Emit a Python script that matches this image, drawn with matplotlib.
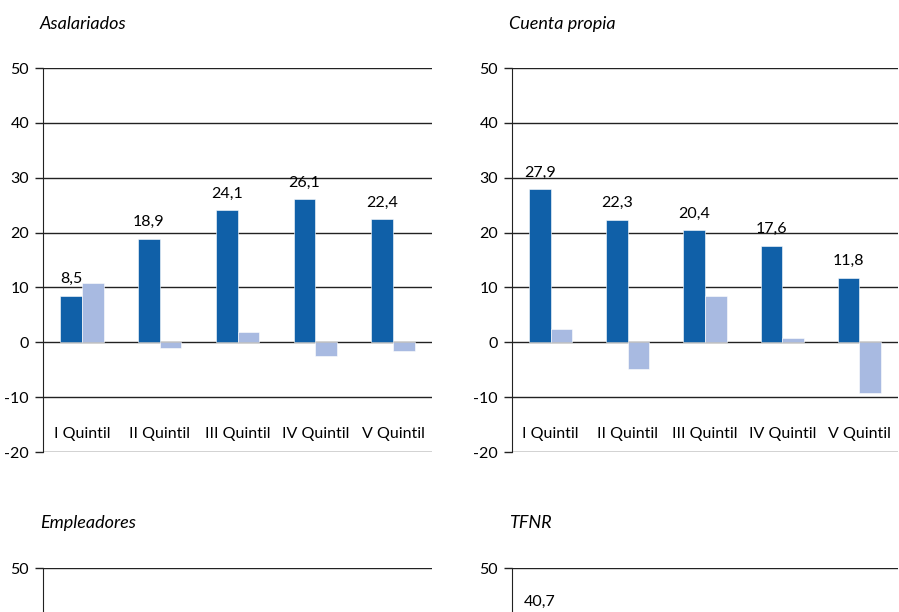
import matplotlib.pyplot as plt
import numpy as np

plt.rcParams['font.family'] = ['Lato', 'DejaVu Sans']
plt.rcParams['axes.unicode_minus'] = False

quintiles = ["I Quintil", "II Quintil", "III Quintil", "IV Quintil", "V Quintil"]

asal_nivel = [8.5, 18.9, 24.1, 26.1, 22.4]
asal_var = [10.8, -1.0, 1.8, -2.5, -1.6]

cprop_nivel = [27.9, 22.3, 20.4, 17.6, 11.8]
cprop_var = [2.4, -4.8, 8.5, 0.7, -9.3]

empl_nivel = [3.2, 4.1, 5.0, 6.8, 12.5]
empl_var = [0.4, -0.6, 0.9, -1.2, 1.5]

tfnr_nivel = [40.7, 26.5, 18.3, 12.2, 6.4]
tfnr_var = [3.1, -2.2, 1.4, -1.8, -0.9]

DARK = "#1060A8"
LIGHT = "#A8BAE1"
W, H = 899, 612


def panel(rect, title, nivel, var, title_xy):
    ax = fig.add_axes(rect)
    x = np.arange(len(quintiles))
    bw = 0.28
    ax.bar(x - bw / 2, nivel, bw, color=DARK, edgecolor="white", linewidth=0.4, zorder=3)
    ax.bar(x + bw / 2, var, bw, color=LIGHT, edgecolor="white", linewidth=0.4, zorder=3)
    for xi, v in zip(x, nivel):
        ax.annotate(f"{v:.1f}".replace(".", ","), (xi - bw / 2, v), xytext=(0, 12),
                    textcoords="offset points", ha="center", va="center", fontsize=11.5)
    for xi, q in zip(x, quintiles):
        ax.text(xi, -16.8, q, ha="center", va="center", fontsize=11.5)
    ax.set_xlim(-0.5, len(quintiles) - 0.5)
    ax.set_ylim(-20, 50)
    ax.set_yticks(range(-20, 51, 10))
    ax.yaxis.grid(True, color="#222222", linewidth=1.0, zorder=0)
    ax.set_axisbelow(True)
    ax.set_xticks([])
    for s in ["top", "right", "bottom"]:
        ax.spines[s].set_visible(False)
    ax.spines["left"].set_color("#222222")
    ax.tick_params(axis="y", length=6, width=1, color="#222222", labelsize=11.5, pad=4)
    fig.text(title_xy[0] / W, 1 - title_xy[1] / H, title, style="italic",
             fontsize=13, ha="left", va="center")
    return ax


fig = plt.figure(figsize=(W / 100, H / 100), dpi=100)

hgt = 384 / H
panel([43 / W, 1 - 452 / H, 389 / W, hgt], "Asalariados", asal_nivel, asal_var, (40, 24))
panel([512 / W, 1 - 452 / H, 386 / W, hgt], "Cuenta propia", cprop_nivel, cprop_var, (509, 24))
panel([43 / W, 1 - 952 / H, 389 / W, hgt], "Empleadores", empl_nivel, empl_var, (40, 523))
panel([512 / W, 1 - 952 / H, 386 / W, hgt], "TFNR", tfnr_nivel, tfnr_var, (509, 523))

fig.savefig("out.png", dpi=100)
